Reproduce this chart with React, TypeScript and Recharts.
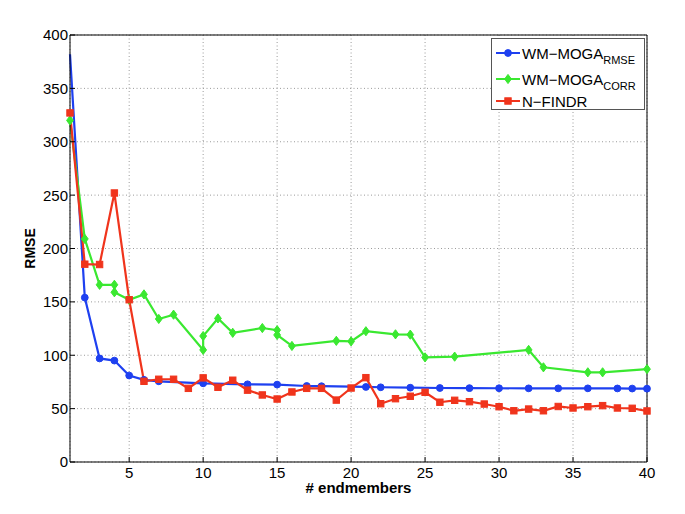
import { LineChart, Line, XAxis, YAxis, CartesianGrid, Legend } from 'recharts'

const FONT = '"Liberation Sans", Arial, Helvetica, sans-serif'

const X_TICKS = [5, 10, 15, 20, 25, 30, 35, 40]
const Y_TICKS = [0, 50, 100, 150, 200, 250, 300, 350, 400]

const xRmse = [1, 2, 3, 4, 5, 6, 7, 10, 13, 15, 17, 18, 21, 22, 24, 26, 28, 30, 32, 34, 36, 38, 39, 40]
const yRmse = [382, 154, 97, 95, 81, 77, 75.6, 73.7, 72.8, 72.5, 71.2, 71, 70.3, 70, 69.6, 69.3, 69.2, 69.1, 69, 69, 69, 68.9, 68.8, 68.7]

const xCorr = [1, 2, 3, 4, 4, 5, 6, 7, 8, 10, 10, 11, 12, 14, 15, 15, 16, 19, 20, 21, 23, 24, 25, 27, 32, 33, 36, 37, 40]
const yCorr = [320, 209, 166, 166, 159, 152, 157, 134, 138, 105, 118, 134.5, 121, 125.5, 123.5, 119, 108.7, 113.5, 113, 122.5, 119.6, 119.3, 98, 98.7, 105, 88.7, 84, 84, 87]

const xFindr = [1, 2, 3, 4, 5, 6, 7, 8, 9, 10, 11, 12, 13, 14, 15, 16, 17, 18, 19, 20, 21, 22, 23, 24, 25, 26, 27, 28, 29, 30, 31, 32, 33, 34, 35, 36, 37, 38, 39, 40]
const yFindr = [
  327, 185.3, 185, 252, 152, 75.6, 77.5, 77.5, 69, 78.8,
  70, 76.6, 67.3, 62.8, 59, 65.6, 69, 69, 58, 69.3,
  79, 54.6, 59.3, 61.6, 65.3, 56, 57.8, 56.5, 54.3, 51.8,
  48, 49.6, 48, 52, 50.6, 51.8, 52.8, 50.6, 50.3, 47.8,
]

const zip = (xs: number[], ys: number[]) => xs.map((x, i) => ({ x, y: ys[i] }))

const SERIES = [
  { key: 'rmse', name: 'WM−MOGA', sub: 'RMSE', color: '#1e40f0', marker: 'circle', skipFirst: true, data: zip(xRmse, yRmse) },
  { key: 'corr', name: 'WM−MOGA', sub: 'CORR', color: '#3ae830', marker: 'diamond', skipFirst: false, data: zip(xCorr, yCorr) },
  { key: 'findr', name: 'N−FINDR', sub: '', color: '#f0341c', marker: 'square', skipFirst: false, data: zip(xFindr, yFindr) },
] as const

function Marker({ cx, cy, kind, color }: { cx: number; cy: number; kind: string; color: string }) {
  if (kind === 'circle') return <circle cx={cx} cy={cy} r={3.4} fill={color} stroke={color} />
  if (kind === 'square') return <rect x={cx - 3.2} y={cy - 3.2} width={6.4} height={6.4} fill={color} stroke={color} />
  return (
    <polygon
      points={`${cx},${cy - 4.6} ${cx + 3.4},${cy} ${cx},${cy + 4.6} ${cx - 3.4},${cy}`}
      fill={color}
      stroke={color}
    />
  )
}

function BottomTick({ x, y, payload }: any) {
  return (
    <g>
      <line x1={x} x2={x} y1={y - 5} y2={y - 10} stroke="#000" />
      <text x={x} y={y} dy="0.71em" textAnchor="middle" fontSize={15} fontFamily={FONT} fill="#000">
        {payload.value}
      </text>
    </g>
  )
}

function LeftTick({ x, y, payload }: any) {
  return (
    <g>
      <line x1={x + 2} x2={x + 7} y1={y} y2={y} stroke="#000" />
      <text x={x} y={y} dy="0.36em" textAnchor="end" fontSize={15} fontFamily={FONT} fill="#000">
        {payload.value}
      </text>
    </g>
  )
}

function TopTick({ x, y }: any) {
  return <line x1={x} x2={x} y1={y} y2={y + 5} stroke="#000" />
}

function RightTick({ x, y }: any) {
  return <line x1={x} x2={x - 5} y1={y} y2={y} stroke="#000" />
}

function YLabel({ viewBox }: any) {
  const cx = viewBox.x
  const cy = viewBox.y + viewBox.height / 2
  return (
    <text
      x={cx}
      y={cy}
      dy="0.36em"
      transform={`rotate(-90 ${cx} ${cy})`}
      textAnchor="middle"
      fontSize={14}
      fontWeight="bold"
      fontFamily={FONT}
      fill="#000"
    >
      RMSE
    </text>
  )
}

function XLabel({ viewBox }: any) {
  return (
    <text
      x={viewBox.x + viewBox.width / 2}
      y={viewBox.y + 31}
      textAnchor="middle"
      fontSize={15}
      fontWeight="bold"
      fontFamily={FONT}
      fill="#000"
    >
      # endmembers
    </text>
  )
}

const ROW_CENTERS = [14, 40, 62]

function LegendBox() {
  return (
    <div
      style={{
        position: 'relative',
        width: 154,
        height: 72,
        border: '1px solid #555',
        background: '#fff',
        fontFamily: FONT,
        fontSize: 15,
        color: '#000',
        boxSizing: 'border-box',
      }}
    >
      {SERIES.map((s, i) => (
        <div
          key={s.key}
          style={{
            position: 'absolute',
            left: 4,
            top: ROW_CENTERS[i] - 10,
            height: 20,
            display: 'flex',
            alignItems: 'center',
            whiteSpace: 'nowrap',
          }}
        >
          <svg width={24} height={20} style={{ display: 'block' }}>
            <line x1={0} x2={24} y1={10} y2={10} stroke={s.color} strokeWidth={2} />
            <Marker cx={12} cy={10} kind={s.marker} color={s.color} />
          </svg>
          <span style={{ marginLeft: 2 }}>
            {s.name}
            {s.sub && (
              <span style={{ fontSize: 11, position: 'relative', top: 5 }}>{s.sub}</span>
            )}
          </span>
        </div>
      ))}
    </div>
  )
}

export default function App() {
  return (
    <div style={{ position: 'absolute', left: 0, top: 0, background: '#fff' }}>
      <LineChart width={685} height={514} margin={{ top: 34, right: 37, bottom: 12, left: 30 }}>
        <CartesianGrid
          xAxisId="b"
          yAxisId="l"
          stroke="#9a9a9a"
          strokeDasharray="1 2.5"
        />
        <XAxis
          xAxisId="b"
          dataKey="x"
          type="number"
          domain={[1, 40]}
          ticks={X_TICKS}
          interval={0}
          height={40}
          tickLine={false}
          tickSize={0}
          tickMargin={5}
          tick={<BottomTick />}
          axisLine={{ stroke: '#000' }}
          label={<XLabel />}
        />
        <XAxis
          xAxisId="t"
          orientation="top"
          dataKey="x"
          type="number"
          domain={[1, 40]}
          ticks={X_TICKS}
          interval={0}
          height={1}
          tickLine={false}
          tickSize={0}
          tickMargin={0}
          tick={<TopTick />}
          axisLine={{ stroke: '#000' }}
        />
        <YAxis
          yAxisId="l"
          type="number"
          domain={[0, 400]}
          ticks={Y_TICKS}
          interval={0}
          width={40}
          tickLine={false}
          tickSize={0}
          tickMargin={2}
          tick={<LeftTick />}
          axisLine={{ stroke: '#000' }}
          label={<YLabel />}
        />
        <YAxis
          yAxisId="r"
          orientation="right"
          type="number"
          domain={[0, 400]}
          ticks={Y_TICKS}
          interval={0}
          width={1}
          tickLine={false}
          tickSize={0}
          tickMargin={0}
          tick={<RightTick />}
          axisLine={{ stroke: '#000' }}
        />
        {SERIES.map((s) => (
          <Line
            key={s.key}
            xAxisId="b"
            yAxisId="l"
            data={s.data as any}
            dataKey="y"
            name={s.key}
            type="linear"
            stroke={s.color}
            strokeWidth={2.2}
            dot={(p: any) =>
              s.skipFirst && p.index === 0 ? (
                <g key={`${s.key}-${p.index}`} />
              ) : (
                <Marker key={`${s.key}-${p.index}`} cx={p.cx} cy={p.cy} kind={s.marker} color={s.color} />
              )
            }
            activeDot={false}
            isAnimationActive={false}
          />
        ))}
        <Legend
          layout="vertical"
          align="center"
          verticalAlign="middle"
          wrapperStyle={{ position: 'absolute', left: 491, top: 38, width: 154, height: 72 }}
          content={() => <LegendBox />}
        />
      </LineChart>
    </div>
  )
}
